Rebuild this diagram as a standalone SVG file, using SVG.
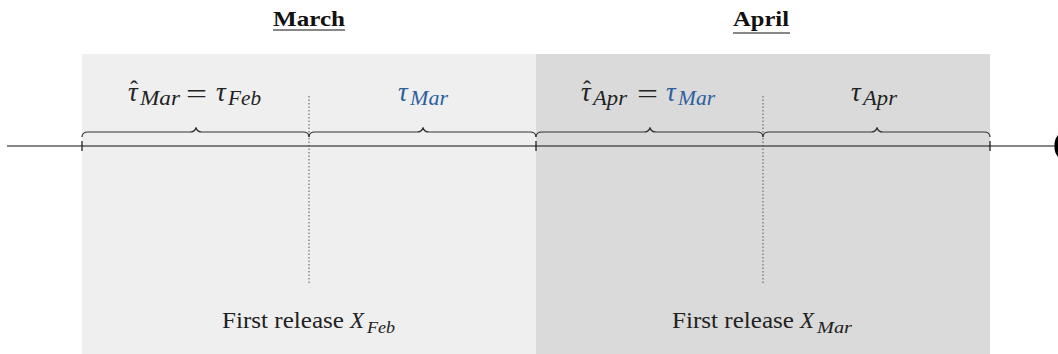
<svg xmlns="http://www.w3.org/2000/svg" width="1058" height="354" viewBox="0 0 1058 354">
<style>
.t{font-family:"Liberation Serif",serif;fill:#222;font-size:23px}
.m{font-family:"Liberation Serif",serif;font-style:italic;fill:#222;font-size:27px}
.s{font-size:20px}
.eq{font-style:normal}
.hat{font-style:normal;font-size:24px}
.blue{fill:#2b5f9e}
.title{font-family:"Liberation Serif",serif;font-weight:bold;font-size:22px;fill:#111}
.brace{fill:none;stroke:#333;stroke-width:1.2}
.dot{stroke:#555;stroke-width:1;stroke-dasharray:1.5 2}
.tick{stroke:#111;stroke-width:1.2}
</style>
<g id="march-bg"><rect x="82" y="54" width="454" height="300" fill="#efefef"/></g>
<g id="april-bg"><rect x="536" y="54" width="454" height="300" fill="#dadada"/></g>
<g id="titles">
<text class="title" x="273" y="26" textLength="72" lengthAdjust="spacingAndGlyphs">March</text>
<line x1="273" y1="30" x2="345" y2="30" stroke="#111" stroke-width="1.2"/>
<text class="title" x="733" y="26" textLength="56" lengthAdjust="spacingAndGlyphs">April</text>
<line x1="733" y1="33" x2="790" y2="33" stroke="#111" stroke-width="1.2"/>
</g>
<g id="connectors">
<line x1="7" y1="146" x2="1055" y2="146" stroke="#111" stroke-width="1.2"/>
<path d="M1058,135 Q1054,140 1054.5,146 Q1054,152 1058,157 Z" fill="#000"/>
<line class="tick" x1="82" y1="141" x2="82" y2="151"/>
<line class="tick" x1="536" y1="141" x2="536" y2="151"/>
<line class="tick" x1="990" y1="141" x2="990" y2="151"/>
<line class="dot" x1="309" y1="96" x2="309" y2="285"/>
<line class="dot" x1="763" y1="96" x2="763" y2="285"/>
<path class="brace" d="M82,137 Q82,132 88,132 L190,132 Q195,132 196,127.5 Q197,132 202,132 L303,132 Q309,132 309,137"/>
<path class="brace" d="M309,137 Q309,132 315,132 L417,132 Q422,132 423,127.5 Q424,132 429,132 L530,132 Q536,132 536,137"/>
<path class="brace" d="M536,137 Q536,132 542,132 L644,132 Q649,132 650,127.5 Q651,132 656,132 L757,132 Q763,132 763,137"/>
<path class="brace" d="M763,137 Q763,132 769,132 L871,132 Q876,132 877,127.5 Q878,132 883,132 L984,132 Q990,132 990,137"/>
</g>
<g id="label-march-left">
<text class="m"><tspan x="128" y="101">τ</tspan><tspan class="hat" x="130" y="97">ˆ</tspan><tspan class="s" x="140" y="105" textLength="40" lengthAdjust="spacingAndGlyphs">Mar</tspan><tspan class="eq" x="186" y="103" textLength="21" lengthAdjust="spacingAndGlyphs">=</tspan><tspan x="216" y="101">τ</tspan><tspan class="s" x="228" y="105" textLength="33" lengthAdjust="spacingAndGlyphs">Feb</tspan></text>
</g>
<g id="label-march-right">
<text class="m blue"><tspan x="398" y="101">τ</tspan><tspan class="s" x="410" y="105" textLength="38" lengthAdjust="spacingAndGlyphs">Mar</tspan></text>
</g>
<g id="label-april-left">
<text class="m"><tspan x="581" y="101">τ</tspan><tspan class="hat" x="583" y="97">ˆ</tspan><tspan class="s" x="593" y="105" textLength="34" lengthAdjust="spacingAndGlyphs">Apr</tspan><tspan class="eq" x="637" y="103" textLength="21" lengthAdjust="spacingAndGlyphs">=</tspan><tspan class="blue" x="666" y="101">τ</tspan><tspan class="s blue" x="678" y="105" textLength="37" lengthAdjust="spacingAndGlyphs">Mar</tspan></text>
</g>
<g id="label-april-right">
<text class="m"><tspan x="851" y="101">τ</tspan><tspan class="s" x="863" y="105" textLength="34" lengthAdjust="spacingAndGlyphs">Apr</tspan></text>
</g>
<g id="release-feb">
<text class="t"><tspan x="222" y="328" textLength="122" lengthAdjust="spacingAndGlyphs">First release</tspan><tspan x="350" y="328" font-style="italic">X</tspan><tspan x="367" y="333" font-style="italic" font-size="17" textLength="28" lengthAdjust="spacingAndGlyphs">Feb</tspan></text>
</g>
<g id="release-mar">
<text class="t"><tspan x="672" y="328" textLength="122" lengthAdjust="spacingAndGlyphs">First release</tspan><tspan x="800" y="328" font-style="italic">X</tspan><tspan x="817" y="333" font-style="italic" font-size="17" textLength="35" lengthAdjust="spacingAndGlyphs">Mar</tspan></text>
</g>
</svg>
